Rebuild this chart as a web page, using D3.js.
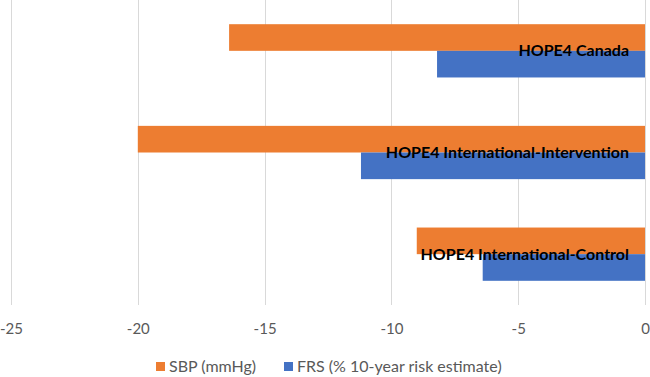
<!DOCTYPE html>
<html>
<head>
<meta charset="utf-8">
<script src="https://cdn.jsdelivr.net/npm/d3@7"></script>
<style>
  body { margin: 0; background: #fff; }
  text { font-family: Lato, "Open Sans", sans-serif; }
</style>
</head>
<body>
<svg id="chart" width="650" height="377"></svg>
<script>
let categories = ['HOPE4 Canada', 'HOPE4 International-Intervention', 'HOPE4 International-Control']
let seriesNames = ['SBP (mmHg)', 'FRS (% 10-year risk estimate)']
let sbpValues = [-16.4, -20.0, -9.0]
let frsValues = [-8.2, -11.2, -6.4]
let tickValues = [-25, -20, -15, -10, -5, 0]
let colors = ['#ED7D31', '#4472C4']

let svg = d3.select('#chart')
let plot = {left: 11, right: 645, top: 0, bottom: 305}

let x = d3.scaleLinear()
    .domain([-25, 0])
    .range([plot.left, plot.right])

let y = d3.scaleBand()
    .domain(categories)
    .range([plot.top, plot.bottom])
    .paddingInner(0.476)
    .paddingOuter(0.238)

let ySeries = d3.scaleBand()
    .domain(seriesNames)
    .range([0, y.bandwidth()])

// gridlines
svg.append('g')
    .selectAll('line')
    .data(tickValues)
    .enter().append('line')
    .attr('x1', d => Math.round(x(d)) + 0.5)
    .attr('x2', d => Math.round(x(d)) + 0.5)
    .attr('y1', plot.top)
    .attr('y2', plot.bottom)
    .attr('stroke', '#d9d9d9')
    .attr('stroke-width', 1)

// tick labels (plain hyphen, like the original)
let axis = svg.append('g')
    .attr('transform', 'translate(0,' + (plot.bottom + 5) + ')')
    .call(d3.axisBottom(x).tickValues(tickValues).tickSize(0).tickPadding(13).tickFormat(d => String(d)))
axis.select('.domain').remove()
axis.selectAll('text')
    .attr('fill', '#595959')
    .style('font-size', '15px')
    .style('font-family', 'Lato, sans-serif')

let rows = categories.map((c, i) => ({
    category: c,
    values: [sbpValues[i], frsValues[i]]
}))

let groups = svg.append('g')
    .selectAll('g')
    .data(rows)
    .enter().append('g')
    .attr('transform', d => 'translate(0,' + y(d.category) + ')')

groups.selectAll('rect')
    .data(d => d.values.map((v, j) => ({series: seriesNames[j], value: v, color: colors[j]})))
    .enter().append('rect')
    .attr('x', d => x(d.value))
    .attr('width', d => x(0) - x(d.value))
    .attr('y', d => ySeries(d.series))
    .attr('height', ySeries.bandwidth())
    .attr('fill', d => d.color)

groups.append('text')
    .attr('x', 629)
    .attr('y', y.bandwidth() / 2)
    .attr('dy', '0.35em')
    .attr('text-anchor', 'end')
    .attr('font-weight', 'bold')
    .style('font-size', '16px')
    .attr('fill', '#000')
    .text(d => d.category)

// legend
let legendItems = [
    {name: seriesNames[0], color: colors[0], x: 156},
    {name: seriesNames[1], color: colors[1], x: 284}
]
let legend = svg.append('g')
    .selectAll('g')
    .data(legendItems)
    .enter().append('g')
    .attr('transform', d => 'translate(' + d.x + ',362)')

legend.append('rect')
    .attr('width', 9)
    .attr('height', 9)
    .attr('fill', d => d.color)

legend.append('text')
    .attr('x', 13)
    .attr('y', 4.5)
    .attr('dy', '0.35em')
    .attr('fill', '#595959')
    .style('font-size', '16px')
    .text(d => d.name)
</script>
</body>
</html>
